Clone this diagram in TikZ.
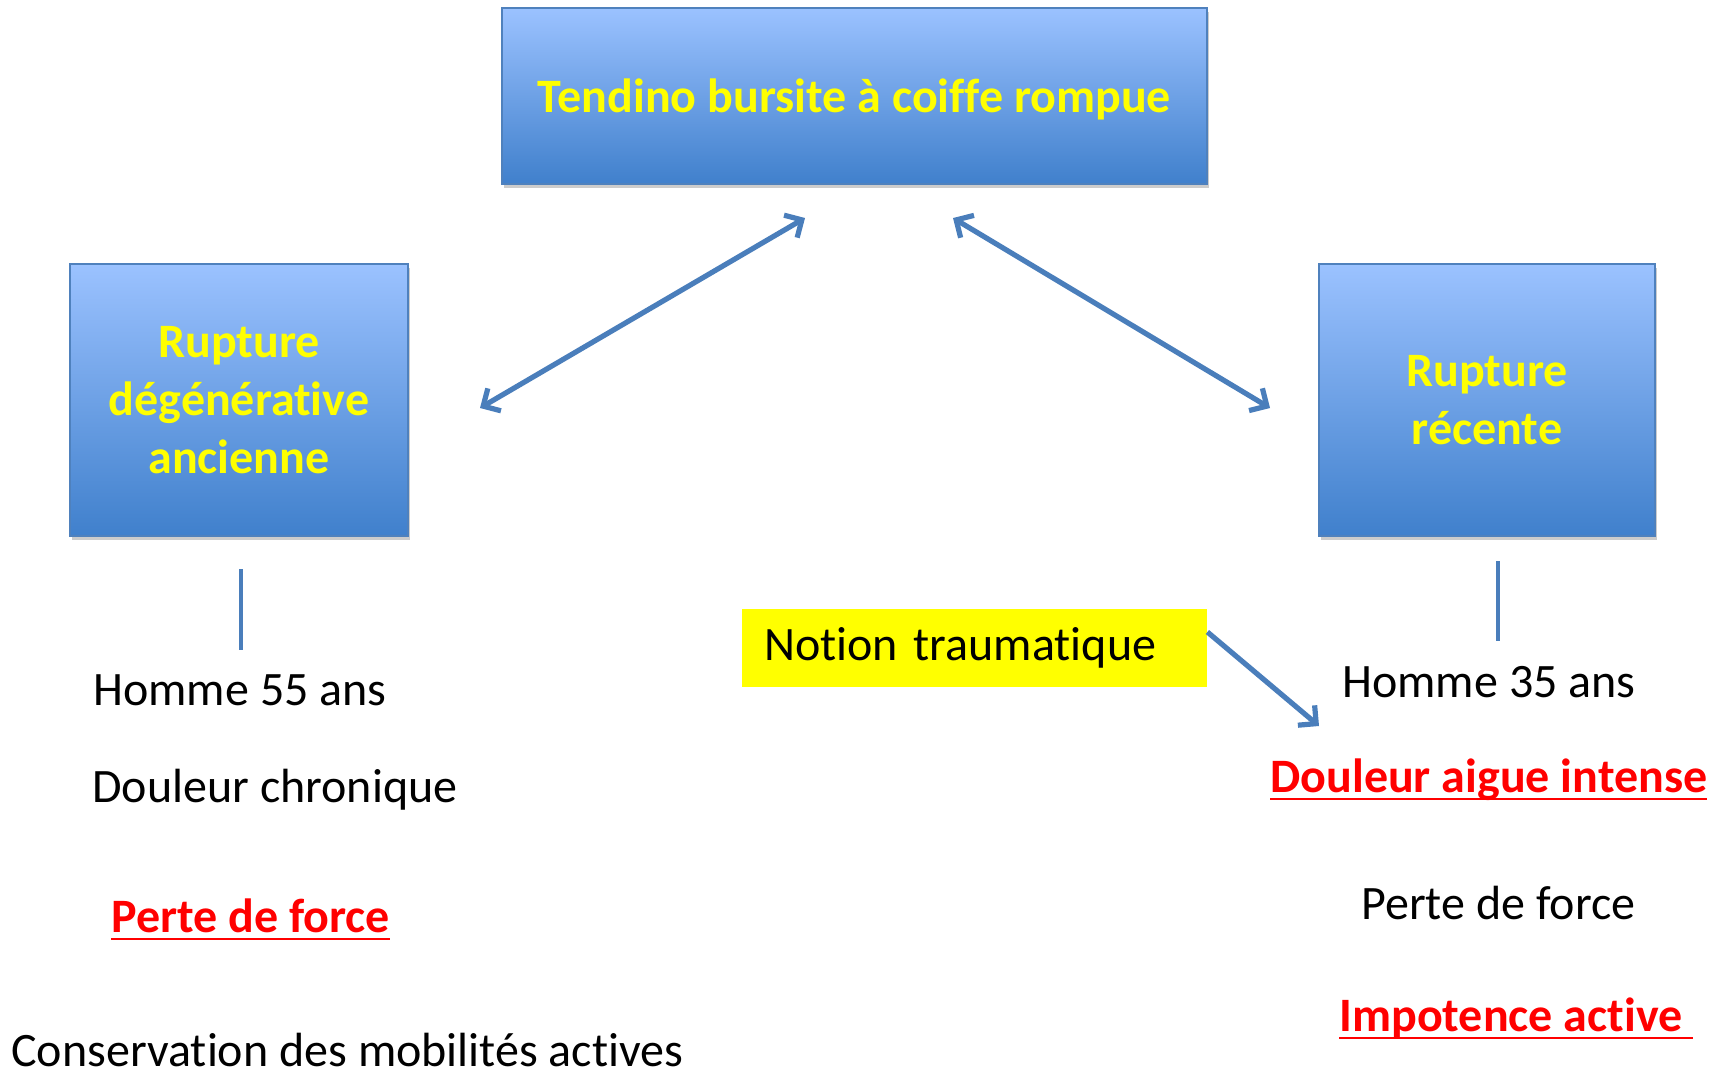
\documentclass[tikz,border=0pt]{standalone}
\usepackage{fontspec}
\setmainfont{Carlito}[RawFeature={-liga;-clig;-calt;-dlig;-rlig}]
\newcommand{\myul}[1]{\setbox0\hbox{#1}\rlap{\rule[-4.2pt]{\wd0}{1.3pt}}\box0}
\usetikzlibrary{arrows.meta,shadows}
\definecolor{boxtop}{RGB}{155,194,255}
\definecolor{boxbot}{RGB}{64,128,204}
\definecolor{boxedge}{RGB}{79,129,189}
\definecolor{arrowc}{RGB}{74,126,187}
\definecolor{ttyellow}{RGB}{255,255,0}
\definecolor{ttred}{RGB}{255,0,0}
\tikzset{
  gradbox/.style={draw=boxedge, line width=0.8pt, top color=boxtop, bottom color=boxbot,
    drop shadow={shadow xshift=1pt, shadow yshift=-2pt, opacity=0.2, fill=black},
    text=ttyellow, font=\fontsize{24}{29}\selectfont\bfseries, align=center},
  link/.style={draw=arrowc, line width=2.6pt, {Straight Barb[length=6.5pt,width=13pt,line width=2.6pt]}-{Straight Barb[length=6.5pt,width=13pt,line width=2.6pt]}},
  onelink/.style={draw=arrowc, line width=2.6pt, -{Straight Barb[length=6.5pt,width=13pt,line width=2.6pt]}},
  tick/.style={draw=arrowc, line width=2pt},
  plain/.style={anchor=base west, inner sep=0pt, font=\fontsize{24}{29}\selectfont},
  redtxt/.style={anchor=base west, inner sep=0pt, text=ttred, font=\fontsize{24}{29}\selectfont\bfseries},
}
\begin{document}
\begin{tikzpicture}[x=0.5pt,y=-0.5pt]
\useasboundingbox (0,0) rectangle (1723,1076);
\node[gradbox, minimum width=352.5pt, minimum height=88pt] (top) at (854.5,96) {\raisebox{-1.6pt}[\height][\depth]{Tendino bursite à coiffe rompue}};
\node[gradbox, minimum width=169pt, minimum height=136pt] (left) at (239,400) {Rupture\\dégénérative\\ancienne};
\node[gradbox, minimum width=168pt, minimum height=136pt] (right) at (1487,400) {Rupture\\récente};
\node[fill=ttyellow, minimum width=232.5pt, minimum height=39pt, text width=210.5pt, inner xsep=11pt, align=left,
  font=\fontsize{24}{29}\selectfont] (notion) at (974.5,648) {\mbox{Notion traumatique}};

\coordinate (la) at (480,408);
\coordinate (lb) at (805,218);
\coordinate (ra) at (953,218);
\coordinate (rb) at (1270,408);
\draw[link] (la) -- (lb);
\draw[link] (ra) -- (rb);

\coordinate (nt) at (1319,726);
\draw[onelink] (notion.east) ++(0,-16) coordinate (ns) (ns) -- (nt);

\coordinate (l1) at (241,569);
\coordinate (l2) at (241,650);
\draw[tick] (l1) -- (l2);
\coordinate (r1) at (1498,561);
\coordinate (r2) at (1498,641);
\draw[tick] (r1) -- (r2);

\node[plain] (h55) at (93,705) {Homme 55 ans};
\node[plain] (dchr) at (92,802) {Douleur chronique};
\node[redtxt] (pf1) at (111,932) {\myul{Perte de force}};
\node[plain] (cons) at (11,1066) {Conservation des mobilités actives};

\node[plain] (h35) at (1342,697) {Homme 35 ans};
\node[redtxt] (dai) at (1270,792) {\myul{Douleur aigue intense}};
\node[plain] (pf2) at (1361,919) {Perte de force};
\node[redtxt] (imp) at (1339,1031) {\myul{Impotence active\ }};
\end{tikzpicture}
\end{document}
